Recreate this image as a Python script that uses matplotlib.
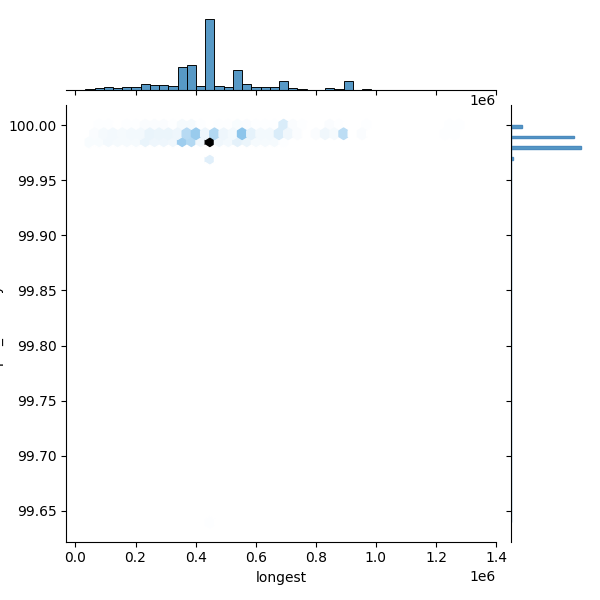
import numpy as np
import pandas as pd
import matplotlib
matplotlib.use('Agg')
import matplotlib.pyplot as plt
import seaborn as sns

# histogram bins for "longest" (bin i -> left edge + width)
bin_start = 0.0329e6
bin_width = 0.0307e6
# counts per x-bin at each identity level
c_100 = [0, 1, 1, 0, 1, 1, 2, 2, 2, 1, 4, 4, 1, 0, 1, 1, 3, 2, 1, 1, 1, 15, 2, 1, 0, 0, 2, 1, 0, 0, 1, 0, 0, 0, 0, 0, 0, 0, 0, 1, 1, 0]
c_9999 = [2, 4, 5, 4, 5, 5, 9, 8, 8, 7, 28, 40, 7, 30, 7, 5, 45, 10, 5, 5, 5, 10, 6, 2, 0, 2, 6, 4, 26, 0, 2, 0, 0, 0, 0, 0, 0, 0, 0, 1, 1, 0]
c_9998 = [3, 3, 5, 4, 4, 4, 9, 7, 7, 6, 38, 30, 6, 170, 6, 5, 11, 8, 4, 4, 4, 1, 0, 0, 0, 0, 0, 0, 0, 0, 0, 0, 0, 0, 0, 0, 0, 0, 0, 0, 0, 0]
c_9997 = [0, 0, 0, 0, 0, 0, 0, 0, 0, 0, 0, 0, 0, 12, 0, 0, 0, 0, 0, 0, 0, 0, 0, 0, 0, 0, 0, 0, 0, 0, 0, 0, 0, 0, 0, 0, 0, 0, 0, 0, 0, 0]
levels = [100.00, 99.99, 99.98, 99.97]
outlier = (0.45e6, 99.64)

n_bins = len(c_100)
centers = bin_start + bin_width * (np.arange(n_bins) + 0.5)
xs, ys = [], []
for lvl, counts in zip(levels, [c_100, c_9999, c_9998, c_9997]):
    xs.append(np.repeat(centers, counts))
    ys.append(np.full(sum(counts), lvl))
xs.append([outlier[0]])
ys.append([outlier[1]])
df = pd.DataFrame({'longest': np.concatenate(xs), 'pct_identity': np.concatenate(ys)})

edges = bin_start + bin_width * np.arange(n_bins + 1)
g = sns.jointplot(data=df, x='longest', y='pct_identity', kind='hex', height=6,
                  marginal_kws=dict(bins=edges))
my = g.ax_marg_y
my.cla()
sns.histplot(y=df['pct_identity'], ax=my, bins=150, edgecolor='#4c8bbf', linewidth=1)
for s in ['top', 'right', 'bottom']:
    my.spines[s].set_visible(False)
my.tick_params(labelleft=False, bottom=False, labelbottom=False)
my.set_xlabel('')
my.set_ylabel('')
g.ax_joint.set_xlim(-0.03e6, 1.4e6)
g.ax_joint.set_ylim(99.622, 100.018)
plt.savefig('out.png', dpi=100)
